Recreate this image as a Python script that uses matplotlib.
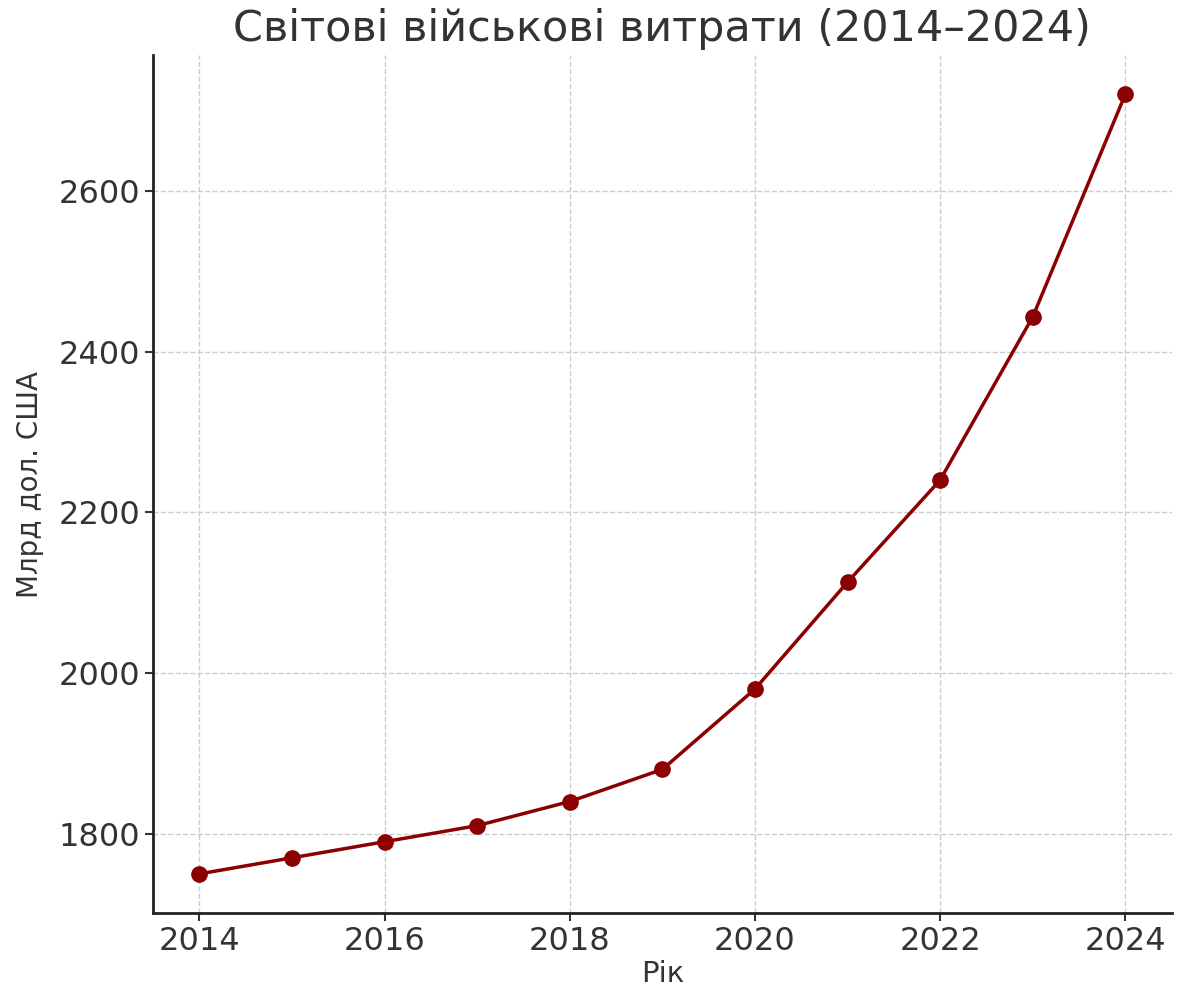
import matplotlib.pyplot as plt

years = [2014, 2015, 2016, 2017, 2018, 2019, 2020, 2021, 2022, 2023, 2024]
spending = [1750, 1770, 1790, 1810, 1840, 1880, 1980, 2113, 2240, 2443, 2720]

text_col = '#333333'

fig = plt.figure(figsize=(11.87, 9.89), dpi=100)
ax = fig.add_axes([0.129, 0.077, 0.858, 0.867])

ax.plot(years, spending, color='#8b0000', linewidth=2.5, marker='o', markersize=11)

ax.grid(True, linestyle='--', color='#cccccc', linewidth=1)
ax.set_axisbelow(True)
ax.spines['top'].set_visible(False)
ax.spines['right'].set_visible(False)
for s in ['left', 'bottom']:
    ax.spines[s].set_linewidth(2)
    ax.spines[s].set_color('#222222')

ax.set_xticks([2014, 2016, 2018, 2020, 2022, 2024])
ax.set_yticks([1800, 2000, 2200, 2400, 2600])
ax.tick_params(labelsize=23, colors=text_col, length=6, width=1.5)

ax.set_title('Світові військові витрати (2014–2024)', fontsize=31, color=text_col, pad=10)
ax.set_xlabel('Рік', fontsize=21, color=text_col, labelpad=2)
ax.set_ylabel('Млрд дол. США', fontsize=20, color=text_col, labelpad=10)

fig.savefig('out.png', dpi=100)
